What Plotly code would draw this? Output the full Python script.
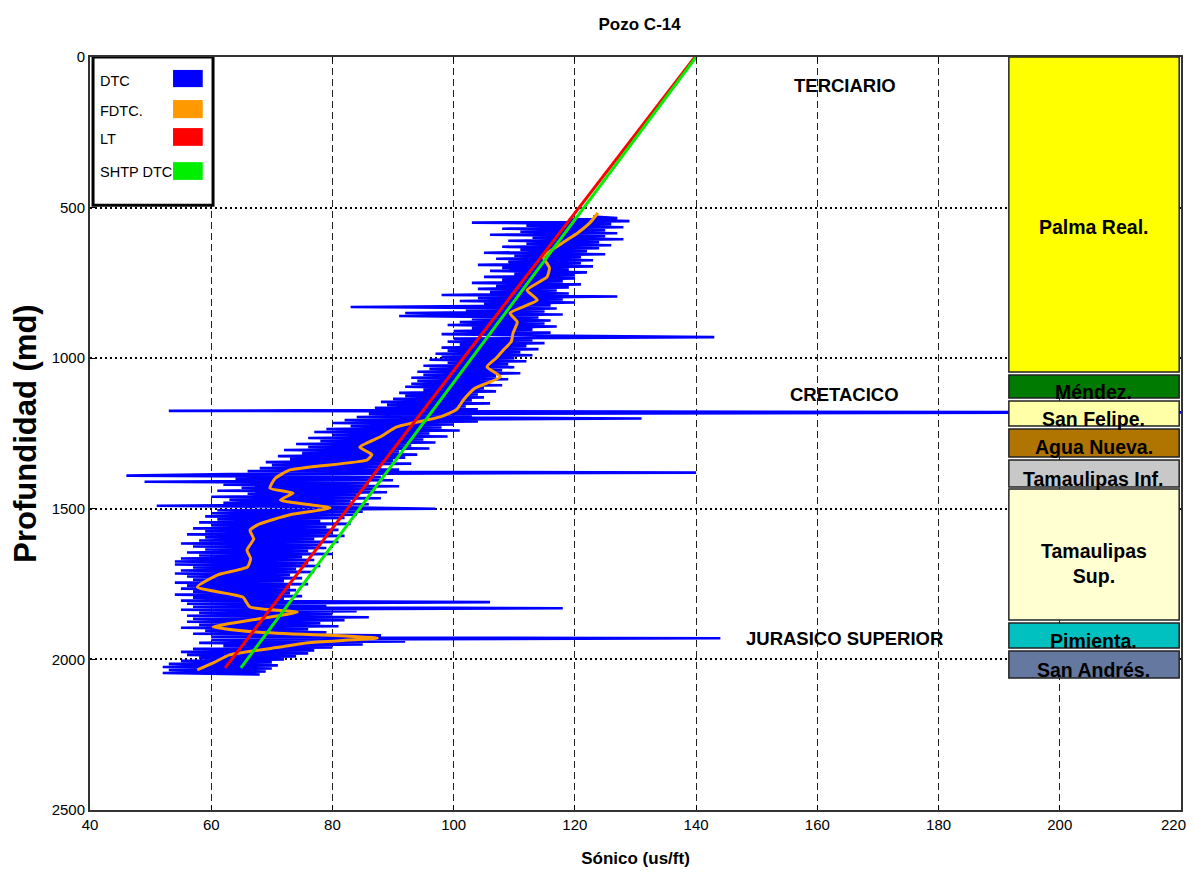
import plotly.graph_objects as go

# ---------------- data ----------------
DTC_START = 530          # first sample depth (m)
DTC_STEP = 5             # sampling interval (m)
DTC = [
    123, 127, 119, 129, 103, 126, 112, 128, 108, 125,
    111, 127, 106, 125, 113, 128, 109, 124, 112, 126,
    108, 124, 111, 122, 105, 125, 110, 121, 107, 123,
    109, 121, 104, 123, 108, 119, 106, 122, 110, 120,
    105, 120, 108, 118, 103, 121, 107, 119, 104, 117,
    106, 119, 98, 127, 104, 118, 101, 120, 105, 116,
    83, 117, 102, 115, 92, 118, 91, 114, 103, 116,
    101, 115, 99, 117, 103, 113, 100, 116, 98, 114,
    143, 100, 113, 99, 115, 101, 112, 98, 114, 99,
    111, 97, 113, 98, 110, 96, 112, 99, 109, 95,
    110, 96, 108, 94, 111, 95, 107, 93, 109, 94,
    106, 93, 108, 92, 105, 95, 107, 91, 104, 92,
    105, 90, 103, 88, 106, 89, 102, 87, 104, 53,
    226, 86, 103, 84, 131, 82, 104, 80, 100, 83,
    98, 79, 101, 77, 96, 80, 99, 76, 95, 78,
    97, 74, 93, 76, 96, 72, 91, 75, 94, 71,
    92, 73, 90, 69, 93, 70, 88, 68, 91, 66,
    140, 63, 46, 88, 64, 90, 49, 86, 62, 91,
    65, 87, 61, 89, 66, 84, 60, 88, 63, 83,
    62, 86, 51, 82, 97, 61, 85, 60, 84, 59,
    82, 61, 78, 58, 83, 60, 79, 57, 81, 59,
    80, 56, 82, 59, 77, 58, 81, 55, 78, 57,
    79, 59, 76, 56, 80, 58, 75, 55, 77, 54,
    76, 54, 78, 57, 74, 55, 77, 54, 73, 56,
    75, 57, 72, 54, 76, 56, 73, 55, 74, 57,
    73, 54, 75, 57, 72, 55, 106, 56, 79, 57,
    118, 55, 84, 58, 80, 56, 86, 57, 82, 56,
    78, 58, 81, 55, 76, 59, 79, 57, 88, 60,
    144, 60, 92, 58, 85, 62, 80, 57, 77, 55,
    76, 56, 74, 58, 72, 55, 70, 53, 71, 52,
    70, 53, 69, 52, 68,
]
DTC_DEPTH = [DTC_START + DTC_STEP * i for i in range(len(DTC))]

FDTC_DEPTH = [518, 550, 585, 610, 630, 663, 700, 730, 774, 807, 850, 880, 916, 945,
              973, 1000, 1029, 1062, 1100, 1139, 1170, 1195, 1228, 1260, 1295, 1320,
              1338, 1371, 1400, 1431, 1448, 1471, 1497, 1520, 1550, 1571, 1600, 1637,
              1665, 1693, 1720, 1760, 1793, 1826, 1843, 1865, 1892, 1910, 1929, 1945,
              1959, 1985, 2010, 2035]
FDTC = [123.8, 122.5, 120.4, 118.5, 117.0, 114.8, 115.8, 115.4, 112.1, 113.8, 109.3,
        110.5, 109.8, 109.5, 108.2, 107.0, 105.5, 107.7, 103.5, 101.6, 100.5, 97.8,
        90.6, 88.0, 84.5, 86.5, 85.7, 73.0, 70.5, 69.7, 73.5, 71.4, 79.6, 73.0, 68.0,
        66.4, 67.0, 65.9, 66.5, 66.0, 61.0, 57.7, 65.2, 66.4, 74.2, 68.0, 60.3, 68.0,
        87.4, 76.0, 71.4, 63.0, 60.5, 57.7]

LT_X = [139.8, 62.3]
LT_DEPTH = [0, 2028]
SHTP_X = [140.0, 64.9]
SHTP_DEPTH = [0, 2028]

FORM_NAMES = ["Palma Real.", "Méndez.", "San Felipe.", "Agua Nueva.", "Tamaulipas Inf.",
              "Tamaulipas<br>Sup.", "Pimienta.", "San Andrés."]
FORM_TOP = [0, 1056, 1142, 1235, 1338, 1434, 1879, 1972]
FORM_BASE = [1046, 1132, 1225, 1328, 1428, 1869, 1962, 2062]
FORM_LABEL_DEPTH = [564, 1112, 1202, 1295, 1401, 1680, 1939, 2035]
FORM_COLORS = ["#FFFF00", "#007A00", "#FFFFA8", "#B07400", "#C8C8C8", "#FFFFD2",
               "#00C0C0", "#6478A0"]

ERA_NAMES = ["TERCIARIO", "CRETACICO", "JURASICO SUPERIOR"]
ERA_DEPTH = [93, 1122, 1929]

LEGEND_NAMES = ["DTC", "FDTC.", "LT", "SHTP DTC"]
LEGEND_COLORS = ["#0000FF", "#FF9900", "#FF0000", "#00EE00"]

X_TICKS = [40, 60, 80, 100, 120, 140, 160, 180, 200, 220]
Y_TICKS = [0, 500, 1000, 1500, 2000, 2500]

FONT = "Liberation Sans, Arial, sans-serif"

fig = go.Figure()
fig.add_trace(go.Scatter(x=DTC, y=DTC_DEPTH, mode="lines", name="DTC",
                         line=dict(color=LEGEND_COLORS[0], width=2.6), showlegend=False))
fig.add_trace(go.Scatter(x=FDTC, y=FDTC_DEPTH, mode="lines", name="FDTC.",
                         line=dict(color=LEGEND_COLORS[1], width=3, shape="spline", smoothing=0.5),
                         showlegend=False))
fig.add_trace(go.Scatter(x=LT_X, y=LT_DEPTH, mode="lines", name="LT",
                         line=dict(color=LEGEND_COLORS[2], width=3), showlegend=False))
fig.add_trace(go.Scatter(x=SHTP_X, y=SHTP_DEPTH, mode="lines", name="SHTP DTC",
                         line=dict(color=LEGEND_COLORS[3], width=3), showlegend=False))

shapes = []
annotations = []
# formation column
for name, top, base, dep, col in zip(FORM_NAMES, FORM_TOP, FORM_BASE, FORM_LABEL_DEPTH, FORM_COLORS):
    shapes.append(dict(type="rect", xref="x", yref="y", x0=191.6, x1=219.7, y0=top, y1=base,
                       fillcolor=col, line=dict(color="#222", width=1.5), layer="above"))
    annotations.append(dict(x=205.6, y=dep, xref="x", yref="y", text="<b>%s</b>" % name,
                            showarrow=False, font=dict(family=FONT, size=19.5, color="black")))

# era labels
for name, dep in zip(ERA_NAMES, ERA_DEPTH):
    annotations.append(dict(x=164.5, y=dep, xref="x", yref="y", text="<b>%s</b>" % name,
                            showarrow=False, font=dict(family=FONT, size=18.5, color="black")))

# legend box (drawn manually: text left, colour swatch right)
shapes.append(dict(type="rect", xref="x", yref="y", x0=40.5, x1=60.3, y0=0, y1=492,
                   fillcolor="white", line=dict(color="black", width=3), layer="above"))
sw_top = [43, 143, 236, 349]
sw_bot = [100, 203, 295, 408]
txt_dep = [80, 180, 272, 382]
for name, col, t, b, d in zip(LEGEND_NAMES, LEGEND_COLORS, sw_top, sw_bot, txt_dep):
    shapes.append(dict(type="rect", xref="x", yref="y", x0=53.7, x1=58.6, y0=t, y1=b,
                       fillcolor=col, line=dict(color=col, width=0), layer="above"))
    annotations.append(dict(x=41.3, y=d, xref="x", yref="y", text=name, xanchor="left",
                            showarrow=False, font=dict(family=FONT, size=14.5, color="black")))

# last x tick label drawn slightly inward so it is not cut at the page edge
x_ticktext = [str(v) for v in X_TICKS[:-1]] + [""]
annotations.append(dict(x=X_TICKS[-1], y=0, xref="x", yref="paper", text=str(X_TICKS[-1]),
                        xanchor="center", yanchor="top", xshift=-8, yshift=-4, showarrow=False,
                        font=dict(family=FONT, size=15, color="black")))

fig.update_layout(
    width=1194, height=869,
    margin=dict(l=82, r=21, t=49, b=67),
    paper_bgcolor="white", plot_bgcolor="white",
    title=dict(text="<b>Pozo C-14</b>", x=0.529, xanchor="center", y=0.981, yanchor="middle",
               font=dict(family=FONT, size=17, color="black")),
    shapes=shapes, annotations=annotations,
    xaxis=dict(range=[40, 220], tickvals=X_TICKS, ticktext=x_ticktext, ticks="inside",
               ticklen=5, tickcolor="black",
               showline=True, linecolor="#333", linewidth=2, mirror="ticks", automargin=False,
               showgrid=True, gridcolor="#222", gridwidth=1, griddash="7px,4px",
               zeroline=False, tickfont=dict(family=FONT, size=15, color="black"),
               title=dict(text="<b>Sónico (us/ft)</b>", standoff=20,
                          font=dict(family=FONT, size=17, color="black"))),
    yaxis=dict(range=[2500, 0], tickvals=Y_TICKS, ticks="inside", ticklen=5, tickcolor="black",
               showline=True, linecolor="#333", linewidth=2, mirror="ticks", automargin=False,
               showgrid=True, gridcolor="black", gridwidth=2, griddash="2px,3px",
               zeroline=False, tickfont=dict(family=FONT, size=15, color="black"),
               title=dict(text="<b>Profundidad (md)</b>", standoff=14,
                          font=dict(family=FONT, size=31, color="black"))),
)

fig.write_html("out.html")
